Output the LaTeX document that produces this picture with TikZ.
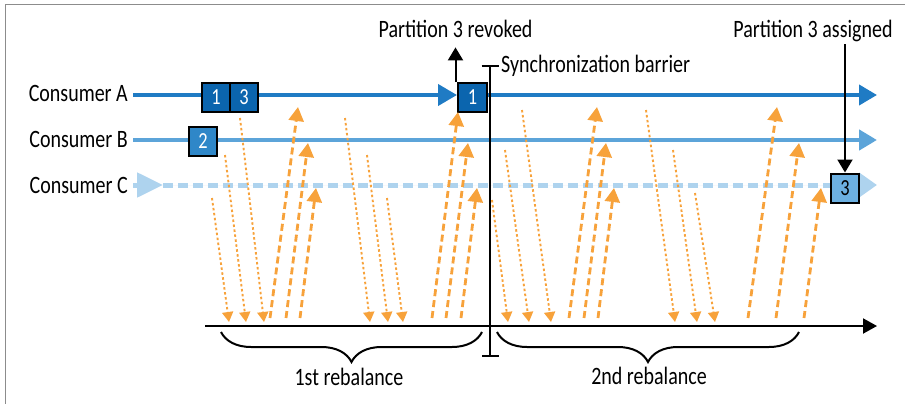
\documentclass[tikz,border=0pt]{standalone}
\usepackage{fontspec}
\setmainfont{Carlito}[FakeStretch=0.8]
\usetikzlibrary{arrows.meta,decorations.pathreplacing,backgrounds}

\definecolor{consA}{HTML}{1F7BC4}
\definecolor{consB}{HTML}{5CA4D9}
\definecolor{consC}{HTML}{AED3EE}
\definecolor{boxA}{HTML}{0B65AE}
\definecolor{boxB}{HTML}{2F87C8}
\definecolor{boxC}{HTML}{6CB0E1}
\definecolor{msg}{HTML}{F7A23B}

\tikzset{
  lbl/.style={font=\fontsize{25}{30}\selectfont, inner sep=0pt},
  partbox/.style={draw=black, line width=2pt, minimum width=28pt, minimum height=29pt,
    inner sep=0pt, font=\fontsize{23}{26}\selectfont},
  lineA/.style={draw=consA, line width=4pt},
  lineB/.style={draw=consB, line width=4.5pt},
  lineC/.style={draw=consC, fill=consC, line width=5pt},
  ctrl/.style={draw=black, line width=2pt, -{Triangle[length=13pt,width=15pt]}},
  barrier/.style={draw=black, line width=2pt, {Bar[width=17pt]}-{Bar[width=17pt]}},
  axis/.style={draw=black, line width=2pt, -{Triangle[length=14pt,width=15pt]}},
  rbrace/.style={draw=black, line width=2pt, decorate,
    decoration={brace, mirror, amplitude=30pt}},
  msgdown/.style={draw=msg, line width=1.9pt, dash pattern=on 2.5pt off 2.5pt,
    -{Triangle[length=10pt,width=11pt]}},
  msgup/.style={draw=msg, line width=2.8pt, dash pattern=on 7pt off 4pt,
    -{Triangle[length=14pt,width=15pt]}},
  frame/.style={draw=black!45, line width=1pt}
}

\begin{document}
\begin{tikzpicture}[x=1pt, y=-1pt]
  \useasboundingbox (0,0) rectangle (910,404);
  \draw[frame] (5,404) -- (5,5) -- (905,5); % outer frame

  % Consumers
  \node[lbl, anchor=base east] (labA) at (128,101) {Consumer A};
  \node[lbl, anchor=base east] (labB) at (128,147) {Consumer B};
  \node[lbl, anchor=base east] (labC) at (128,193) {Consumer C};
  \coordinate (endA) at (877,95);
  \coordinate (endB) at (877,140);
  \coordinate (endC) at (877,185);
  \coordinate (startC) at (163,185);

  % Partitions
  \node[partbox, fill=boxA, text=white] (p1a) at (216,97.5) {1};
  \node[partbox, fill=boxA, text=white] (p3a) at (244,97.5) {3};
  \node[partbox, fill=boxB, text=white] (p2b) at (203,141.5) {2};
  \node[partbox, fill=boxA, text=white, minimum width=29pt] (p1r) at (472.5,97.5) {1};
  \node[partbox, fill=boxC] (p3c) at (845,188) {3};

  % Timelines
  \begin{scope}[on background layer]
    \draw[lineA, shorten <=5pt, -{Triangle[length=19pt,width=21pt]}] (labA.east |- endA) -- (p1r.west |- endA);
    \draw[lineA, -{Triangle[length=18pt,width=20pt]}] (p1r.east |- endA) -- (endA);
    \draw[lineB, shorten <=5pt, -{Triangle[length=18pt,width=20pt]}] (labB.east |- endB) -- (endB);
    \draw[lineC, shorten <=5pt, -{Triangle[length=26pt,width=24pt]}] (labC.east |- startC) -- (startC);
    \draw[lineC, dash pattern=on 10pt off 5pt] (startC) -- (p3c.west |- endC);
    \draw[lineC, -{Triangle[length=18pt,width=24pt]}] (p3c.east |- endC) -- (endC);
  \end{scope}

  % Revoke / assign
  \node[lbl, anchor=base] (revk) at (455.5,38) {Partition 3 revoked};
  \draw[ctrl, shorten >=9pt] (revk.south |- p1r.north) -- (revk.south);
  \node[lbl, anchor=base] (asgn) at (813,38) {Partition 3 assigned};
  \draw[ctrl, shorten <=2pt] (p3c.north |- asgn.south) -- (p3c.north);

  % Barrier
  \coordinate (barTop) at (490,65);
  \coordinate (barBot) at (490,357);
  \draw[barrier] (barTop) -- (barBot);
  \node[lbl, anchor=base west] (sync) at (501,72) {Synchronization barrier};

  % Time axis
  \coordinate (axL) at (205,326);
  \coordinate (axR) at (877,326);
  \draw[axis] (axL) -- (axR);

  % Messages to the coordinator
  \foreach \n/\sx/\sy/\ex in {1/212/198/229, 2/225/155/246, 3/240/118/264,
      4/345/118/370, 5/367/155/388, 6/387/198/403,
      7/492/200/508, 8/505/150/529, 9/522/110/551,
      10/646/110/675, 11/673/150/697, 12/695/193/715} {
    \coordinate (ds\n) at (\sx,\sy);
    \coordinate (dt\n) at (\ex,322);
    \draw[msgdown] (ds\n) -- (dt\n);
  }
  % Answers back to the consumers
  \foreach \n/\sx/\ex/\ey in {1/270/298/107, 2/286/308/143, 3/300/316/188,
      4/432/458/112, 5/446/468/143, 6/461/477/188,
      7/569/597/107, 8/584/606/143, 9/598/614/188,
      10/748/777/107, 11/776/799/143, 12/804/821/188} {
    \coordinate (us\n) at (\sx,318);
    \coordinate (ut\n) at (\ex,\ey);
    \draw[msgup] (us\n) -- (ut\n);
  }

  % Rebalances
  \coordinate (b1L) at (221,332);
  \coordinate (b1R) at (482,332);
  \coordinate (b2L) at (497,332);
  \coordinate (b2R) at (799,332);
  \draw[rbrace] (b1L) -- (b1R);
  \draw[rbrace] (b2L) -- (b2R);
  \node[lbl, anchor=base] (reb1) at (349,385) {1st rebalance};
  \node[lbl, anchor=base] (reb2) at (649,384) {2nd rebalance};
\end{tikzpicture}
\end{document}
